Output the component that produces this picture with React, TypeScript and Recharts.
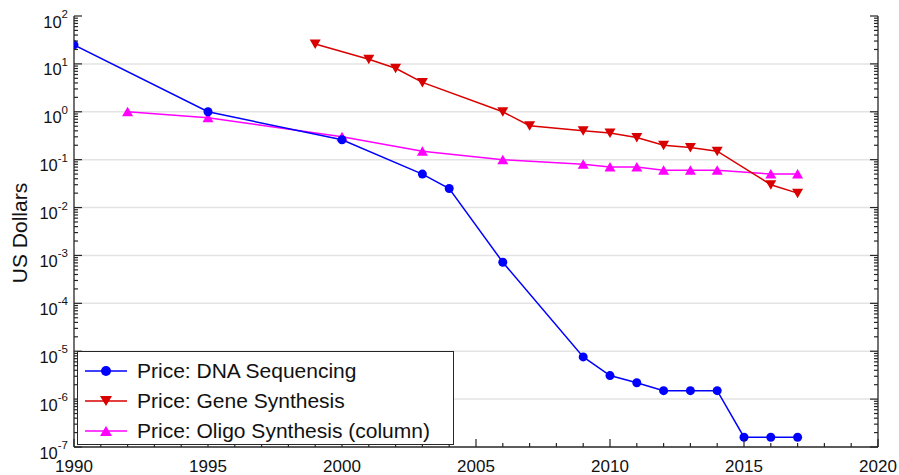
import { LineChart, Line, XAxis, YAxis, ReferenceLine } from "recharts";

const dnaYears = [1990, 1995, 2000, 2003, 2004, 2006, 2009, 2010, 2011, 2012, 2013, 2014, 2015, 2016, 2017];
const dnaPrice = [25, 1.0, 0.26, 0.05, 0.025, 7.2e-4, 7.6e-6, 3.1e-6, 2.2e-6, 1.5e-6, 1.5e-6, 1.5e-6, 1.6e-7, 1.6e-7, 1.6e-7];

const geneYears = [1999, 2001, 2002, 2003, 2006, 2007, 2009, 2010, 2011, 2012, 2013, 2014, 2016, 2017];
const genePrice = [26, 12.5, 8.1, 4.1, 1.0, 0.51, 0.4, 0.36, 0.29, 0.2, 0.18, 0.15, 0.03, 0.02];

const oligoYears = [1992, 1995, 2000, 2003, 2006, 2009, 2010, 2011, 2012, 2013, 2014, 2016, 2017];
const oligoPrice = [1.0, 0.75, 0.3, 0.15, 0.1, 0.08, 0.07, 0.07, 0.06, 0.06, 0.06, 0.05, 0.05];

const seriesNames = ["Price: DNA Sequencing", "Price: Gene Synthesis", "Price: Oligo Synthesis (column)"];

const xTicks = Array.from({ length: 31 }, (_, i) => 1990 + i);
const decades = [1e-7, 1e-6, 1e-5, 1e-4, 1e-3, 1e-2, 1e-1, 1e0, 1e1, 1e2];
const yTicks = [
  ...decades,
  ...decades.slice(0, -1).flatMap((d) => [2, 3, 4, 5, 6, 7, 8, 9].map((m) => m * d)),
];

const BLUE = "#0000FF";
const RED = "#D90000";
const MAGENTA = "#FF00FF";
const INK = "#262626";
const TEXT = "#111111";
const FONT = "'Liberation Sans', Arial, sans-serif";

const toRows = (xs: number[], ys: number[]) => xs.map((year, i) => ({ year, price: ys[i] }));
const dnaData = toRows(dnaYears, dnaPrice);
const geneData = toRows(geneYears, genePrice);
const oligoData = toRows(oligoYears, oligoPrice);

const isDecade = (v: number) => Math.abs(Math.log10(v) - Math.round(Math.log10(v))) < 1e-6;

function BottomTick({ x, y, payload }: any) {
  const major = payload.value % 5 === 0;
  return (
    <g>
      <line x1={x} y1={y} x2={x} y2={y - (major ? 8 : 4)} stroke={INK} strokeWidth={1.2} />
      {major && (
        <text x={x} y={y + 25} textAnchor="middle" fontSize={17} fill={TEXT} fontFamily={FONT}>
          {payload.value}
        </text>
      )}
    </g>
  );
}

function TopTick({ x, y, payload }: any) {
  const major = payload.value % 5 === 0;
  return <line x1={x} y1={y} x2={x} y2={y + (major ? 8 : 4)} stroke={INK} strokeWidth={1.2} />;
}

function LeftTick({ x, y, payload }: any) {
  const major = isDecade(payload.value);
  return (
    <g>
      <line x1={x} y1={y} x2={x + (major ? 8 : 4)} y2={y} stroke={INK} strokeWidth={1.2} />
      {major && (
        <text x={x - 6} y={y + 11.5} textAnchor="end" fill={TEXT} fontFamily={FONT}>
          <tspan fontSize={16.5}>10</tspan>
          <tspan fontSize={11.5} dy={-9.5}>
            {Math.round(Math.log10(payload.value))}
          </tspan>
        </text>
      )}
    </g>
  );
}

function RightTick({ x, y, payload }: any) {
  const major = isDecade(payload.value);
  return <line x1={x} y1={y} x2={x - (major ? 8 : 4)} y2={y} stroke={INK} strokeWidth={1.2} />;
}

function CircleDot({ cx, cy, index }: any) {
  return <circle key={index} cx={cx} cy={cy} r={4.5} fill={BLUE} />;
}

function DownDot({ cx, cy, index }: any) {
  return (
    <polygon
      key={index}
      points={`${cx - 5.5},${cy - 4.5} ${cx + 5.5},${cy - 4.5} ${cx},${cy + 5}`}
      fill={RED}
    />
  );
}

function UpDot({ cx, cy, index }: any) {
  return (
    <polygon
      key={index}
      points={`${cx - 5.5},${cy + 4.5} ${cx + 5.5},${cy + 4.5} ${cx},${cy - 5}`}
      fill={MAGENTA}
    />
  );
}

function LegendMarker({ kind, color }: { kind: string; color: string }) {
  return (
    <svg width={46} height={20} style={{ display: "block" }}>
      <line x1={2} y1={10} x2={44} y2={10} stroke={color} strokeWidth={1.5} />
      {kind === "circle" && <circle cx={23} cy={10} r={5} fill={color} />}
      {kind === "down" && <polygon points="17,5 29,5 23,15" fill={color} />}
      {kind === "up" && <polygon points="17,15 29,15 23,5" fill={color} />}
    </svg>
  );
}

const legendItems = [
  { name: seriesNames[0], color: BLUE, kind: "circle" },
  { name: seriesNames[1], color: RED, kind: "down" },
  { name: seriesNames[2], color: MAGENTA, kind: "up" },
];

export default function App() {
  return (
    <div
      style={{
        position: "absolute",
        left: 0,
        top: 0,
        width: 899,
        height: 475,
        background: "#fff",
        fontFamily: FONT,
      }}
    >
      <LineChart width={899} height={475} margin={{ top: 16, right: 0, bottom: 0, left: 0 }}>
        <XAxis
          dataKey="year"
          type="number"
          domain={[1990, 2020]}
          allowDataOverflow
          ticks={xTicks}
          interval={0}
          height={28}
          tickSize={0}
          tickMargin={0}
          tickLine={false}
          axisLine={{ stroke: INK, strokeWidth: 1.3 }}
          tick={(p: any) => <BottomTick {...p} />}
        />
        <XAxis
          xAxisId="top"
          orientation="top"
          type="number"
          domain={[1990, 2020]}
          allowDataOverflow
          ticks={xTicks}
          interval={0}
          height={0}
          tickSize={0}
          tickMargin={0}
          tickLine={false}
          axisLine={{ stroke: INK, strokeWidth: 1.3 }}
          tick={(p: any) => <TopTick {...p} />}
        />
        <YAxis
          type="number"
          scale="log"
          domain={[1e-7, 1e2]}
          allowDataOverflow
          ticks={yTicks}
          interval={0}
          width={74}
          tickSize={0}
          tickMargin={0}
          tickLine={false}
          axisLine={{ stroke: INK, strokeWidth: 1.3 }}
          tick={(p: any) => <LeftTick {...p} />}
        />
        <YAxis
          yAxisId="right"
          orientation="right"
          type="number"
          scale="log"
          domain={[1e-7, 1e2]}
          allowDataOverflow
          ticks={yTicks}
          interval={0}
          width={21}
          tickSize={0}
          tickMargin={0}
          tickLine={false}
          axisLine={{ stroke: INK, strokeWidth: 1.3 }}
          tick={(p: any) => <RightTick {...p} />}
        />
        {decades.slice(1, -1).map((d) => (
          <ReferenceLine key={d} y={d} stroke="#E3E3E3" strokeWidth={1.5} />
        ))}
        <Line
          data={oligoData}
          dataKey="price"
          name={seriesNames[2]}
          stroke={MAGENTA}
          strokeWidth={1.5}
          dot={(p: any) => <UpDot {...p} />}
          isAnimationActive={false}
        />
        <Line
          data={geneData}
          dataKey="price"
          name={seriesNames[1]}
          stroke={RED}
          strokeWidth={1.5}
          dot={(p: any) => <DownDot {...p} />}
          isAnimationActive={false}
        />
        <Line
          data={dnaData}
          dataKey="price"
          name={seriesNames[0]}
          stroke={BLUE}
          strokeWidth={1.5}
          dot={(p: any) => <CircleDot {...p} />}
          isAnimationActive={false}
        />
      </LineChart>

      <div
        style={{
          position: "absolute",
          left: 20,
          top: 233,
          transform: "translate(-50%, -50%) rotate(-90deg)",
          fontSize: 21,
          color: TEXT,
          whiteSpace: "nowrap",
        }}
      >
        US Dollars
      </div>

      <div
        style={{
          position: "absolute",
          left: 77,
          top: 351,
          width: 377,
          height: 94,
          boxSizing: "border-box",
          border: `1.5px solid ${INK}`,
          background: "#fff",
          paddingTop: 4,
        }}
      >
        {legendItems.map((it) => (
          <div key={it.name} style={{ display: "flex", alignItems: "center", height: 30 }}>
            <div style={{ marginLeft: 5 }}>
              <LegendMarker kind={it.kind} color={it.color} />
            </div>
            <span style={{ marginLeft: 8, fontSize: 21, color: TEXT, whiteSpace: "nowrap" }}>{it.name}</span>
          </div>
        ))}
      </div>
    </div>
  );
}
